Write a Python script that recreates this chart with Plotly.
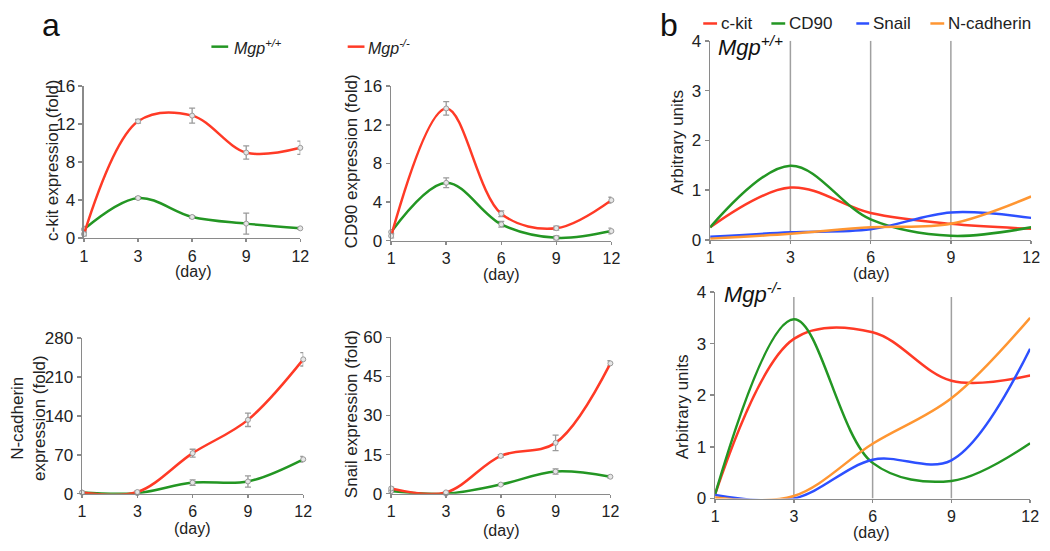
import plotly.graph_objects as go

W, H = 1050, 551
def X(px): return px / W
def Y(py): return 1 - py / H

days = ["1", "3", "6", "9", "12"]
guide_days = ["3", "6", "9"]

# ---- panel a (fold expression, mean +/- error) ----
ckit_wt = [0.9, 4.2, 2.2, 1.5, 1.0]
ckit_wt_err = [0.3, 0.15, 0.15, 1.1, 0.1]
ckit_ko = [0.4, 12.3, 12.9, 9.0, 9.5]
ckit_ko_err = [0.2, 0.2, 0.8, 0.7, 0.7]

cd90_wt = [0.9, 6.0, 1.7, 0.3, 1.0]
cd90_wt_err = [0.2, 0.5, 0.3, 0.2, 0.3]
cd90_ko = [0.5, 13.7, 2.8, 1.3, 4.2]
cd90_ko_err = [0.2, 0.7, 0.3, 0.2, 0.3]

ncad_wt = [2, 1, 20, 22, 62]
ncad_wt_err = [1, 1, 5, 10, 5]
ncad_ko = [2, 3, 73, 133, 242]
ncad_ko_err = [2, 2, 7, 12, 12]

snail_wt = [1.0, 0.0, 3.5, 8.5, 6.5]
snail_wt_err = [0.5, 0.3, 0.3, 1.0, 0.5]
snail_ko = [2.0, 0.5, 14.5, 19.5, 50.0]
snail_ko_err = [0.5, 0.3, 0.5, 3.0, 1.0]

# ---- panel b (arbitrary units) ----
b_wt = {
    "c-kit": [0.25, 1.05, 0.54, 0.32, 0.22],
    "CD90": [0.25, 1.49, 0.41, 0.08, 0.25],
    "Snail": [0.06, 0.15, 0.21, 0.55, 0.44],
    "N-cadherin": [0.02, 0.12, 0.25, 0.32, 0.87],
}
b_ko = {
    "c-kit": [0.08, 3.09, 3.22, 2.28, 2.38],
    "CD90": [0.08, 3.47, 0.69, 0.34, 1.07],
    "Snail": [0.07, 0.0, 0.75, 0.74, 2.9],
    "N-cadherin": [0.02, 0.05, 1.06, 1.94, 3.5],
}

RED = "rgb(255,58,38)"
GREEN = "rgb(35,150,35)"
BLUE = "rgb(45,80,255)"
ORANGE = "rgb(255,150,50)"
gene_colors = {"c-kit": RED, "CD90": GREEN, "Snail": BLUE, "N-cadherin": ORANGE}

AX = "#8a8a8a"
TXT = "#222222"
FONT = "Arial, Liberation Sans, sans-serif"

fig = go.Figure()

def add_err_series(xa, ya, vals, errs, color):
    fig.add_trace(go.Scatter(
        x=days, y=vals, xaxis=xa, yaxis=ya, mode="lines+markers",
        line=dict(color=color, width=2.5, shape="spline", smoothing=1),
        marker=dict(size=5, color="#e6e6e6", line=dict(color="#9a9a9a", width=1)),
        error_y=dict(type="data", array=errs, visible=True, color="#9a9a9a",
                     thickness=1.3, width=3),
        showlegend=False, cliponaxis=False))

a_panels = [
    ("x", "y", ckit_wt, ckit_wt_err, ckit_ko, ckit_ko_err),
    ("x2", "y2", cd90_wt, cd90_wt_err, cd90_ko, cd90_ko_err),
    ("x3", "y3", ncad_wt, ncad_wt_err, ncad_ko, ncad_ko_err),
    ("x4", "y4", snail_wt, snail_wt_err, snail_ko, snail_ko_err),
]
for xa, ya, wt, wte, ko, koe in a_panels:
    add_err_series(xa, ya, wt, wte, GREEN)
    add_err_series(xa, ya, ko, koe, RED)

for xa, ya, data in [("x5", "y5", b_wt), ("x6", "y6", b_ko)]:
    for gene, vals in data.items():
        fig.add_trace(go.Scatter(
            x=days, y=vals, xaxis=xa, yaxis=ya, mode="lines",
            line=dict(color=gene_colors[gene], width=2.5, shape="spline", smoothing=1),
            showlegend=False))

def xax(dom):
    return dict(domain=[X(dom[0]), X(dom[1])], type="category", range=[0, 4],
                showline=True, linecolor=AX, linewidth=1.5, ticks="outside",
                ticklen=3, tickwidth=1.5, tickcolor=AX, showgrid=False, zeroline=False,
                tickfont=dict(size=16, color=TXT, family=FONT), fixedrange=True)

def yax(dom, rng, tv, anchor):
    return dict(domain=[Y(dom[1]), Y(dom[0])], range=rng, tickvals=tv,
                showline=True, linecolor=AX, linewidth=1.5, ticks="outside",
                ticklen=4, tickwidth=1.5, tickcolor=AX, showgrid=False, zeroline=False,
                tickfont=dict(size=17, color=TXT, family=FONT), anchor=anchor,
                fixedrange=True)

layout_axes = {}
specs = [
    ("", (81, 300), (80, 237), [0, 16], [0, 4, 8, 12, 16]),
    ("2", (392, 615), (80, 240), [0, 16], [0, 4, 8, 12, 16]),
    ("3", (79, 303), (341, 502), [0, 280], [0, 70, 140, 210, 280]),
    ("4", (392, 614), (340, 502), [0, 60], [0, 15, 30, 45, 60]),
    ("5", (715, 1040), (33, 239), [0, 4], [0, 1, 2, 3, 4]),
    ("6", (720, 1039), (293, 507), [0, 4], [0, 1, 2, 3, 4]),
]
for s, xd, yd, rng, tv in specs:
    layout_axes["xaxis" + s] = dict(xax(xd), anchor="y" + s)
    layout_axes["yaxis" + s] = yax(yd, rng, tv, "x" + s)

shapes = []
for xr, yr, top in [("x5", "y5", 4), ("x6", "y6", 3.9)]:
    for d in guide_days:
        xi = days.index(d)
        shapes.append(dict(type="line", xref=xr, yref=yr, x0=xi, x1=xi, y0=0, y1=top,
                           line=dict(color="#a0a0a0", width=1.5), layer="below"))

annotations = []
def ann(text, x, y, size=17, angle=0, xanchor="center", color=TXT, yanchor="middle"):
    annotations.append(dict(text=text, x=X(x), y=Y(y), xref="paper", yref="paper",
                            showarrow=False, textangle=angle, xanchor=xanchor,
                            yanchor=yanchor, font=dict(size=size, color=color, family=FONT)))

ann("a", 48, 17, size=32, color="#111")
ann("b", 673, 17, size=32, color="#111")

# legend for panel a
for x0, x1, tx, color, label in [(210, 227, 231, GREEN, "<i>Mgp<sup>+/+</sup></i>"),
                                  (348, 365, 367, RED, "<i>Mgp<sup>-/-</sup></i>")]:
    shapes.append(dict(type="line", xref="paper", yref="paper", x0=X(x0), x1=X(x1),
                       y0=Y(39), y1=Y(39), line=dict(color=color, width=2.5)))
    ann(label, tx, 39, size=16, xanchor="left")

# legend for panel b
for x0, x1, tx, gene in [(708, 722, 724, "c-kit"), (777, 791, 793, "CD90"),
                          (863, 876, 878, "Snail"), (938, 952, 954, "N-cadherin")]:
    shapes.append(dict(type="line", xref="paper", yref="paper", x0=X(x0), x1=X(x1),
                       y0=Y(15), y1=Y(15), line=dict(color=gene_colors[gene], width=2.5)))
    ann(gene, tx, 15, size=17, xanchor="left")

# (day) labels
for x, y in [(191, 272), (503, 275), (190, 538), (503, 540), (878, 274), (878, 542)]:
    ann("(day)", x, y, size=16)

# y-axis titles
ann("c-kit expression (fold)", 49, 156, angle=-90)
ann("CD90 expression (fold)", 352, 158, angle=-90)
ann("N-cadherin<br>expression (fold)", 25, 424, angle=-90)
ann("Snail expression (fold)", 352, 420, angle=-90)
ann("Arbitrary units", 682, 138, angle=-90)
ann("Arbitrary units", 687, 412, angle=-90)

# genotype labels in panel b
ann("<i>Mgp<sup>+/+</sup></i>", 721, 38, size=22, xanchor="left", color="#111")
ann("<i>Mgp<sup>-/-</sup></i>", 727, 294, size=22, xanchor="left", color="#111")

fig.update_layout(
    width=W, height=H, autosize=False,
    margin=dict(l=0, r=0, t=0, b=0),
    paper_bgcolor="white", plot_bgcolor="white",
    font=dict(family=FONT, color=TXT),
    shapes=shapes, annotations=annotations, showlegend=False,
    hovermode=False,
    **layout_axes)

fig.write_html("out.html",
               config={"displayModeBar": False, "staticPlot": True},
               post_script="document.body.style.margin='0';"
                           "document.body.style.overflow='hidden';")
